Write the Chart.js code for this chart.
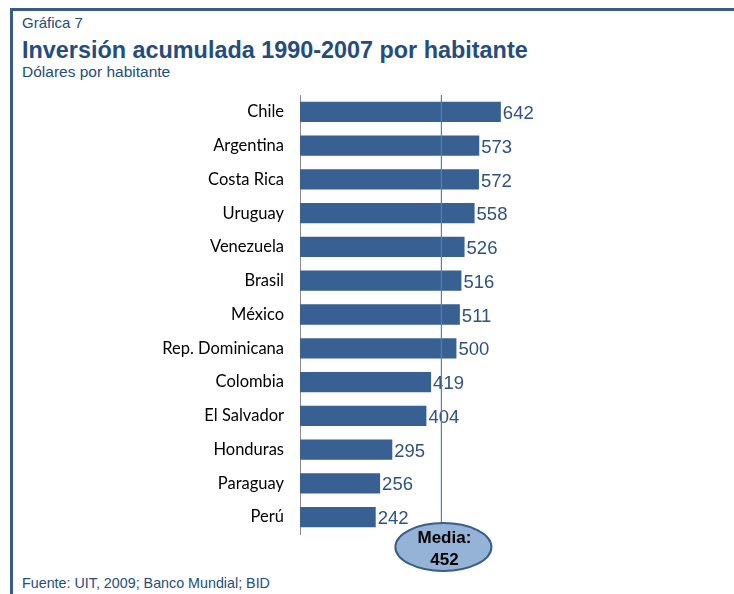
<!DOCTYPE html>
<html>
<head>
<meta charset="utf-8">
<script src="https://cdn.jsdelivr.net/npm/chart.js@4.4.1/dist/chart.umd.min.js"></script>
<style>
  body { margin: 0; background: #fff; }
  #wrap { position: relative; width: 734px; height: 594px; overflow: hidden; }
  #frame { position: absolute; left: 10px; top: 8px; width: 740px; height: 600px;
           border-top: 3px solid #385D8A; border-left: 3px solid #385D8A; }
  .txt { position: absolute; left: 22px; font-family: "Liberation Sans", Arial, sans-serif; color: #254C7F; white-space: nowrap; }
  #g7 { top: 14px; font-size: 15px; }
  #tit { top: 37px; font-size: 23.4px; font-weight: bold; }
  #sub { top: 63px; font-size: 15.5px; }
  #src { top: 575px; font-size: 14.3px; }
  canvas { position: absolute; left: 0; top: 0; }
</style>
</head>
<body>
<div id="wrap">
  <div id="frame"></div>
  <div class="txt" id="g7">Gráfica 7</div>
  <div class="txt" id="tit">Inversión acumulada 1990-2007 por habitante</div>
  <div class="txt" id="sub">Dólares por habitante</div>
  <div class="txt" id="src">Fuente: UIT, 2009; Banco Mundial; BID</div>
  <canvas id="grafico" width="734" height="594"></canvas>
</div>
<script>
const paises = ['Chile', 'Argentina', 'Costa Rica', 'Uruguay', 'Venezuela', 'Brasil', 'México',
  'Rep. Dominicana', 'Colombia', 'El Salvador', 'Honduras', 'Paraguay', 'Perú'];
const inversion = [642, 573, 572, 558, 526, 516, 511, 500, 419, 404, 295, 256, 242];
const media = 452;

const etiquetas = {
  id: 'etiquetas',
  afterDatasetsDraw(chart) {
    const ctx = chart.ctx;
    const x = chart.scales.x;
    const area = chart.chartArea;
    ctx.save();
    // valores
    ctx.font = '18.5px "Liberation Sans", Arial, sans-serif';
    ctx.fillStyle = '#2E5186';
    ctx.textBaseline = 'middle';
    chart.getDatasetMeta(0).data.forEach((bar, i) => {
      ctx.fillText(inversion[i], bar.x + 2, bar.y + 2);
    });
    // linea de la media
    const mx = x.getPixelForValue(media);
    const cy = 547;
    ctx.strokeStyle = '#4F81BD';
    ctx.lineWidth = 1.2;
    ctx.beginPath();
    ctx.moveTo(mx, area.top);
    ctx.lineTo(mx, cy - 24);
    ctx.stroke();
    // elipse
    ctx.beginPath();
    ctx.ellipse(mx + 2, cy, 48, 24, 0, 0, Math.PI * 2);
    ctx.fillStyle = '#95B3D7';
    ctx.fill();
    ctx.lineWidth = 2;
    ctx.strokeStyle = '#385D8A';
    ctx.stroke();
    ctx.fillStyle = '#000';
    ctx.font = 'bold 17px "Liberation Sans", Arial, sans-serif';
    ctx.textAlign = 'center';
    ctx.fillText('Media:', mx + 3, cy - 9);
    ctx.fillText(String(media), mx + 3, cy + 13);
    ctx.restore();
  }
};

new Chart(document.getElementById('grafico').getContext('2d'), {
  type: 'bar',
  data: {
    labels: paises,
    datasets: [{
      data: inversion,
      backgroundColor: '#386092',
      borderWidth: 0,
      categoryPercentage: 1,
      barPercentage: 0.6
    }]
  },
  options: {
    indexAxis: 'y',
    responsive: false,
    animation: false,
    layout: { padding: { left: 0, right: 215, top: 95, bottom: 60 } },
    plugins: { legend: { display: false }, tooltip: { enabled: false } },
    scales: {
      x: { display: false, min: 0, max: 700 },
      y: {
        afterFit(scale) { scale.width = 300; },
        grid: { display: false, drawTicks: false },
        border: { display: true, color: '#8C8C8C', width: 1 },
        ticks: {
          padding: 16,
          color: '#000',
          font: { family: 'Lato, "Open Sans", sans-serif', size: 16.5 }
        }
      }
    }
  },
  plugins: [etiquetas]
});
</script>
</body>
</html>
